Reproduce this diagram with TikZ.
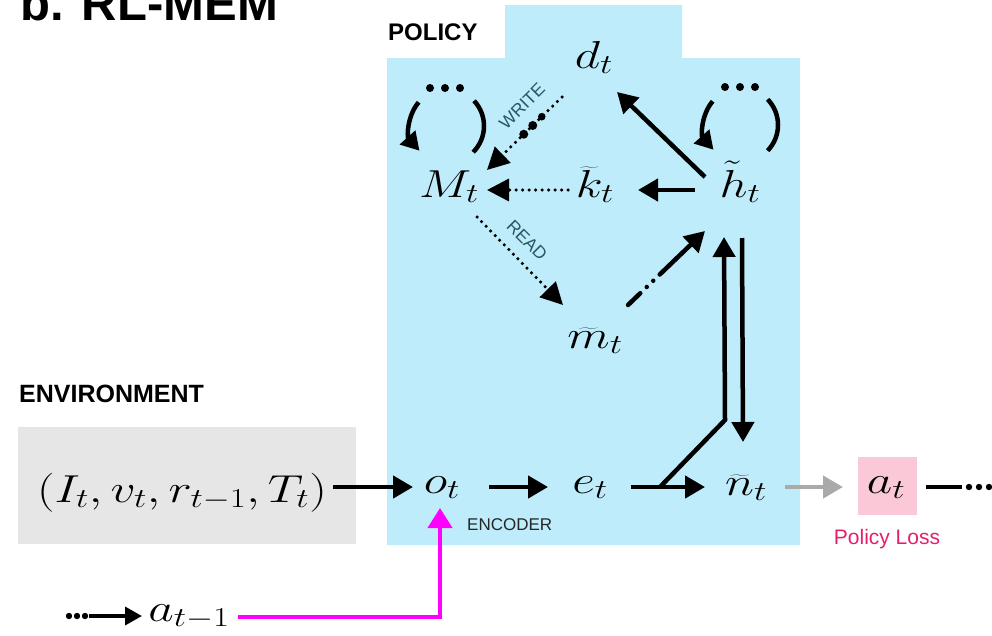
\RequirePackage{fix-cm}
\documentclass[tikz,border=0pt]{standalone}
\usepackage{fontspec}
\setsansfont{Liberation Sans}
\usetikzlibrary{arrows.meta,calc}
\definecolor{polblue}{RGB}{190,236,250}
\definecolor{envgray}{RGB}{230,230,230}
\definecolor{pinkbox}{RGB}{250,200,214}
\definecolor{lossred}{RGB}{228,30,110}
\definecolor{magline}{RGB}{255,0,255}
\definecolor{lblteal}{RGB}{45,85,100}
\definecolor{grayarrow}{RGB}{170,170,170}
\begin{document}
\begin{tikzpicture}[x=1pt,y=-1pt,
  mathlbl/.style={inner sep=0pt, anchor=base, xscale=1.27, font=\fontsize{39}{43}\selectfont},
  arr/.style={line width=4.5pt, -{Triangle[length=20pt,width=22pt]}},
  dotarr/.style={line width=3.5pt, line cap=round, dash pattern=on 0pt off 6.5pt, -{Triangle[length=22pt,width=22pt]}},
  loopline/.style={line width=4.5pt},
  headlbl/.style={font=\sffamily\bfseries\fontsize{24}{26}\selectfont, anchor=base west, inner sep=0pt},
  smalllbl/.style={font=\sffamily\fontsize{17.5}{19}\selectfont, text=lblteal, inner sep=0pt}
]
\useasboundingbox (0,0) rectangle (992,635);
% panels
\fill[polblue] (387,545) |- (505,58) |- (682,5) |- (800,58) |- cycle;
\fill[envgray] (18,427) rectangle (356,544);
\fill[pinkbox] (858,457) rectangle (917,515);
% headings
\node[font=\sffamily\bfseries\fontsize{49}{50}\selectfont, anchor=base west, inner sep=0pt] (title) at (20,20) {b. RL-MEM};
\node[headlbl, font=\sffamily\bfseries\fontsize{24}{26}\selectfont] (pol) at (388,40) {POLICY};
\node[headlbl, font=\sffamily\bfseries\fontsize{25}{27}\selectfont] (envlbl) at (19,402) {ENVIRONMENT};
% math nodes
\node[mathlbl] (d) at (594,68) {$d_t$};
\node[mathlbl] (M) at (449,197) {$M_t$};
\node[mathlbl] (k) at (595,197) {$\widetilde{k}_t$};
\node[mathlbl] (h) at (740,197) {$\tilde{h}_t$};
\node[mathlbl] (m) at (595,348) {$\widetilde{m}_t$};
\node[mathlbl] (o) at (442,493) {$o_t$};
\node[mathlbl] (e) at (590,493) {$e_t$};
\node[mathlbl] (n) at (746,495) {$\widetilde{n}_t$};
\node[mathlbl] (a) at (886,493) {$a_t$};
\node[mathlbl] (env) at (182,502) {$(I_t, v_t, r_{t-1}, T_t)$};
\node[mathlbl] (aprev) at (189,621) {$a_{t-1}$};
% small labels
\node[font=\sffamily\fontsize{17}{18}\selectfont, text=black!85, anchor=base west, inner sep=0pt] (enc) at (467,530) {ENCODER};
\node[font=\sffamily\fontsize{21}{22}\selectfont, text=lossred, anchor=base, inner sep=0pt] (loss) at (887,544) {Policy Loss};
\node[smalllbl, rotate=45] (wlbl) at (522,106) {WRITE};
\node[smalllbl, rotate=-45] (rlbl) at (527,240) {READ};
% coordinates
\coordinate (lc) at ($(M.base)+(-2,-71)$);
\coordinate (rc) at ($(h.base)+(1,-72)$);
\coordinate (br) at ($(e.base)+(70,-6)$);
\coordinate (cor) at ($(n.base)+(-21,-75)$);
\coordinate (tailend) at ($(a.base)+(76,-6)$);
\coordinate (lead) at ($(aprev.base)+(-120,-5)$);
% loops
\draw[loopline, -{Triangle[length=18pt,width=20pt]}] (lc) ++(220:37) arc[start angle=220, end angle=138, radius=37];
\draw[loopline] (lc) ++(-43:37) arc[start angle=-43, end angle=45, radius=37];
\foreach \dx in {-17,-2,13} \fill ($(lc)+(\dx,-38)$) circle (4);
\draw[loopline, -{Triangle[length=18pt,width=20pt]}] (rc) ++(220:37) arc[start angle=220, end angle=138, radius=37];
\draw[loopline] (rc) ++(-44:37) arc[start angle=-44, end angle=44, radius=37];
\foreach \dx in {-16,-1,14} \fill ($(rc)+(\dx,-38)$) circle (4);
% policy connectors
\draw[arr] ($(h.base)+(-45,-7)$) -- ($(k.base)+(43,-7)$);
\draw[dotarr] ($(k.base)+(-27,-7)$) -- ($(M.base)+(38,-7)$);
\draw[arr] ($(h.base)+(-35,-20)$) -- ($(d.base)+(23,24)$);
\draw[dotarr] ($(d.base)+(-32,29)$) -- ($(M.base)+(38,-27)$);
\foreach \t/\r in {0.27/3.8,0.39/4.5,0.51/4.5}
  \fill ($($(d.base)+(-32,29)$)!\t!($(M.base)+(38,-27)$)$) circle (\r);
\draw[dotarr] ($(M.base)+(28,20)$) -- ($(m.base)+(-32,-43)$);
\draw[line width=4.5pt, line cap=round, dash pattern=on 17pt off 9pt on 0pt off 9pt on 0pt off 9pt on 80pt, -{Triangle[length=20pt,width=22pt]}] ($(m.base)+(33,-43)$) -- ($(h.base)+(-35,34)$);
\draw[arr, line join=miter] (br) -- (cor) -- ($(h.base)+(-16,40)$);
\draw[arr] ($(h.base)+(2,41)$) -- ($(n.base)+(-3,-53)$);
% bottom row
\draw[arr] ($(env.base)+(151,-15)$) -- ($(o.base)+(-29,-6)$);
\draw[arr] ($(o.base)+(47,-6)$) -- ($(e.base)+(-42,-6)$);
\draw[arr] ($(e.base)+(41,-6)$) -- ($(n.base)+(-41,-8)$);
\draw[line width=4.5pt, grayarrow, -{Triangle[length=20pt,width=22pt]}] ($(n.base)+(39,-8)$) -- ($(a.base)+(-43,-6)$);
\draw[line width=4.5pt] ($(a.base)+(40,-6)$) -- (tailend);
\foreach \dx in {7,17,27} \fill ($(tailend)+(\dx,0)$) circle (3.2);
% magenta feedback
\draw[line width=4pt, magline, -{Triangle[length=20pt,width=24pt]}] ($(aprev.base)+(49,-4)$) -| ($(o.base)+(-2,15)$);
% leading dots and arrow
\foreach \dx in {0,8,16} \fill ($(lead)+(\dx,0)$) circle (3.2);
\draw[line width=3.5pt, -{Triangle[length=17pt,width=18pt]}] ($(lead)+(20,0)$) -- ($(aprev.base)+(-47,-5)$);
\end{tikzpicture}
\end{document}
